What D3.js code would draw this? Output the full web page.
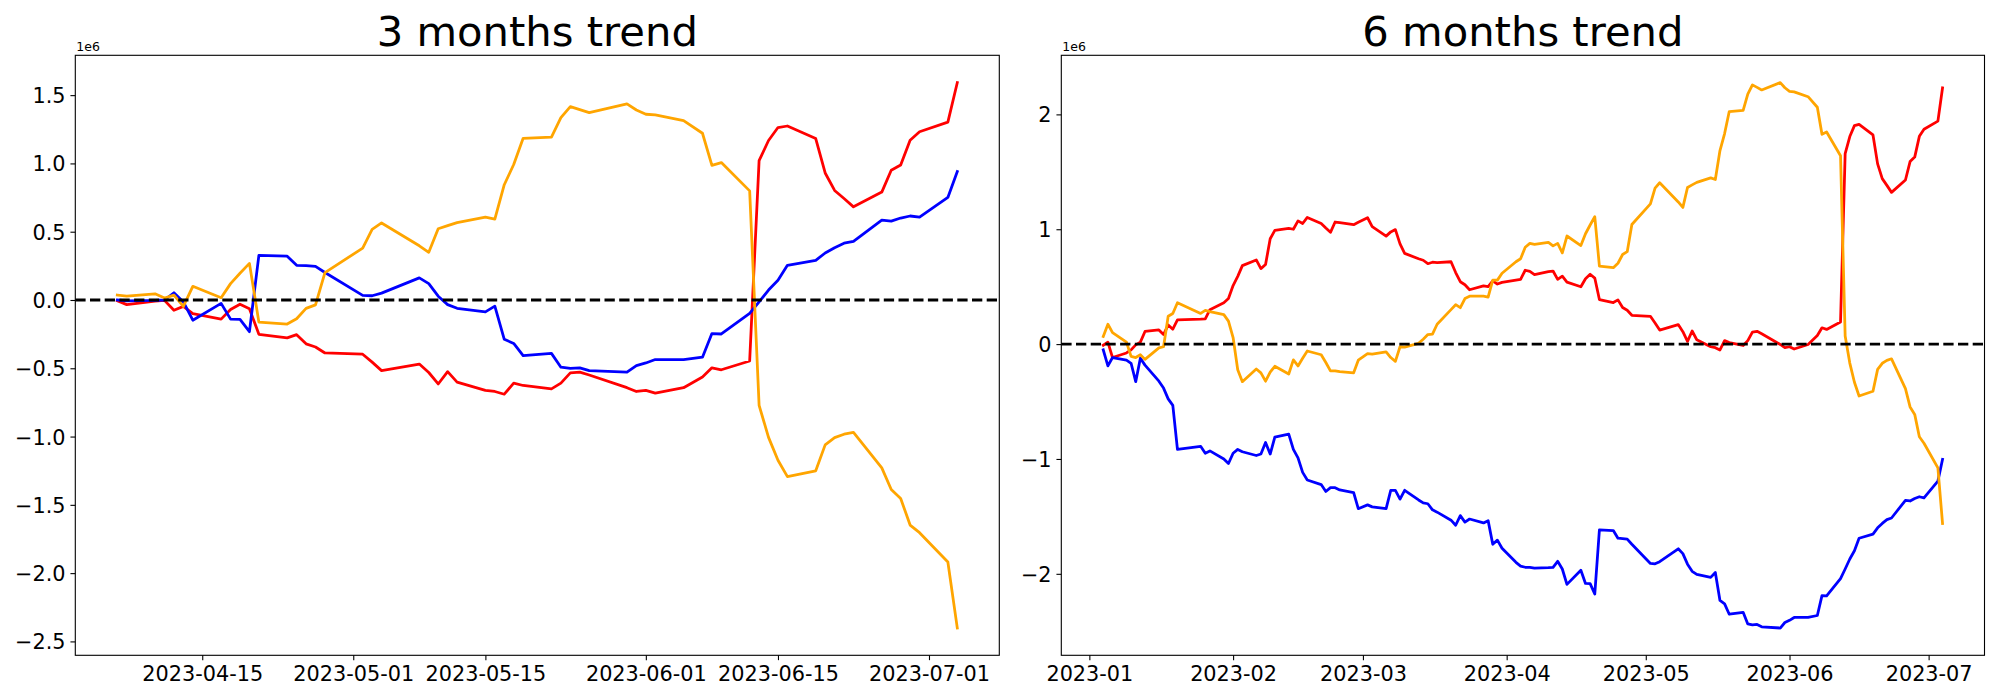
<!DOCTYPE html>
<html>
<head>
<meta charset="utf-8">
<title>3 / 6 months trend</title>
<script src="https://d3js.org/d3.v7.min.js"></script>
<style>
  body { margin: 0; background: #fff; }
  svg { display: block; font-family: "DejaVu Sans", sans-serif; }
</style>
</head>
<body>
<svg id="chart" width="2000" height="700"></svg>

<script>
    // Trading days 2023 (MM-DD), last 3 months
    const days3 = [
        "04-06","04-07","04-10","04-11","04-12","04-13","04-14","04-17","04-18","04-19","04-20","04-21","04-24","04-25","04-26","04-27","04-28",
        "05-02","05-03","05-04","05-08","05-09","05-10","05-11","05-12","05-15","05-16","05-17","05-18","05-19","05-22","05-23","05-24","05-25","05-26","05-30","05-31",
        "06-01","06-02","06-05","06-07","06-08","06-09","06-12","06-13","06-14","06-15","06-16","06-19","06-20","06-21","06-22","06-23","06-26","06-27","06-28","06-29","06-30",
        "07-03","07-04"
    ];

    // Trading days 2023 (MM-DD), last 6 months
    const days6 = [
        "01-04","01-05","01-06","01-09","01-10","01-11","01-12","01-13","01-16","01-17","01-18","01-19","01-20","01-25","01-26","01-27","01-30","01-31",
        "02-01","02-02","02-03","02-06","02-07","02-08","02-09","02-10","02-13","02-14","02-15","02-16","02-17","02-20","02-21","02-22","02-23","02-24","02-27","02-28",
        "03-02","03-03","03-06","03-07","03-08","03-09","03-10","03-13","03-14","03-15","03-16","03-17","03-20","03-21","03-22","03-23","03-24","03-27","03-28","03-29","03-30","03-31",
        "04-03","04-04","04-05",
        ...days3
    ];

    // 3 months series (1e6)
    const red3 = [
        -0.006, -0.034, -0.008, -0.003, -0.075, -0.047, -0.100, -0.140, -0.070, -0.031, -0.064, -0.251, -0.277, -0.254, -0.321, -0.344, -0.388,
        -0.397, -0.455, -0.517, -0.469, -0.531, -0.615, -0.525, -0.601, -0.662, -0.670, -0.690, -0.609, -0.626, -0.651, -0.609, -0.534, -0.528, -0.549, -0.642, -0.670,
        -0.662, -0.682, -0.642, -0.564, -0.497, -0.511, -0.447, 1.020, 1.168, 1.263, 1.274, 1.182, 0.930, 0.802, 0.743, 0.682, 0.790, 0.950, 0.989, 1.170, 1.232,
        1.302, 1.592
    ];
    const blue3 = [
        0.000, -0.006, -0.003, 0.000, 0.053, -0.014, -0.148, -0.025, -0.140, -0.142, -0.232, 0.327, 0.321, 0.254, 0.251, 0.246, 0.201,
        0.034, 0.031, 0.050, 0.162, 0.120, 0.028, -0.034, -0.061, -0.087, -0.045, -0.288, -0.318, -0.408, -0.391, -0.492, -0.500, -0.497, -0.517, -0.528, -0.480,
        -0.461, -0.436, -0.436, -0.419, -0.246, -0.249, -0.098, -0.014, 0.073, 0.145, 0.254, 0.290, 0.344, 0.383, 0.416, 0.430, 0.584, 0.578, 0.600, 0.615, 0.606,
        0.751, 0.941
    ];
    const orange3 = [
        0.036, 0.028, 0.045, 0.014, 0.036, -0.047, 0.100, 0.017, 0.120, 0.196, 0.268, -0.162, -0.176, -0.137, -0.061, -0.036, 0.200,
        0.380, 0.517, 0.564, 0.397, 0.349, 0.522, 0.545, 0.567, 0.606, 0.592, 0.844, 0.992, 1.184, 1.193, 1.335, 1.416, 1.394, 1.372, 1.436, 1.391,
        1.360, 1.355, 1.313, 1.221, 0.986, 1.006, 0.799, -0.771, -1.006, -1.173, -1.293, -1.251, -1.061, -1.008, -0.983, -0.969, -1.229, -1.388, -1.453, -1.648, -1.704,
        -1.919, -2.402
    ];

    // 6 months series (1e6)
    const red6 = [
        -0.010, 0.017, -0.117, -0.077, -0.050, -0.007, 0.017, 0.110, 0.123, 0.083, 0.167, 0.130, 0.210, 0.217, 0.220, 0.300, 0.360, 0.397,
        0.510, 0.590, 0.683, 0.733, 0.657, 0.693, 0.917, 0.990, 1.007, 1.000, 1.073, 1.050, 1.103, 1.050, 1.010, 0.973, 1.063, 1.057, 1.040, 1.060,
        1.100, 1.023, 0.940, 0.977, 0.997, 0.873, 0.790, 0.743, 0.730, 0.700, 0.713, 0.710, 0.717, 0.623, 0.543, 0.517, 0.473, 0.507, 0.500, 0.550, 0.523, 0.537,
        0.557, 0.563, 0.643,
        0.633, 0.605, 0.631, 0.636, 0.564, 0.592, 0.539, 0.499, 0.569, 0.608, 0.575, 0.388, 0.362, 0.385, 0.318, 0.295, 0.251,
        0.242, 0.184, 0.122, 0.170, 0.108, 0.024, 0.114, 0.038, -0.023, -0.031, -0.051, 0.030, 0.013, -0.012, 0.030, 0.105, 0.111, 0.090, -0.003, -0.031,
        -0.023, -0.043, -0.003, 0.075, 0.142, 0.128, 0.192, 1.659, 1.807, 1.902, 1.913, 1.821, 1.569, 1.441, 1.382, 1.321, 1.429, 1.589, 1.628, 1.809, 1.871,
        1.941, 2.231
    ];
    const blue6 = [
        -0.050, -0.190, -0.117, -0.140, -0.167, -0.327, -0.123, -0.183, -0.323, -0.383, -0.477, -0.533, -0.917, -0.890, -0.950, -0.930, -1.000, -1.040,
        -0.950, -0.917, -0.937, -0.970, -0.957, -0.857, -0.957, -0.810, -0.783, -0.917, -0.990, -1.117, -1.183, -1.223, -1.283, -1.250, -1.250, -1.270, -1.293, -1.433,
        -1.400, -1.417, -1.433, -1.273, -1.273, -1.350, -1.273, -1.357, -1.383, -1.390, -1.443, -1.463, -1.533, -1.577, -1.493, -1.550, -1.523, -1.557, -1.537, -1.743, -1.707, -1.777,
        -1.900, -1.933, -1.943,
        -1.944, -1.950, -1.947, -1.944, -1.891, -1.958, -2.092, -1.969, -2.084, -2.086, -2.176, -1.617, -1.623, -1.690, -1.693, -1.698, -1.743,
        -1.910, -1.913, -1.894, -1.782, -1.824, -1.916, -1.978, -2.005, -2.031, -1.989, -2.232, -2.262, -2.352, -2.335, -2.436, -2.444, -2.441, -2.461, -2.472, -2.424,
        -2.405, -2.380, -2.380, -2.363, -2.190, -2.193, -2.042, -1.958, -1.871, -1.799, -1.690, -1.654, -1.600, -1.561, -1.528, -1.514, -1.360, -1.366, -1.344, -1.329, -1.338,
        -1.193, -1.003
    ];
    const orange6 = [
        0.067, 0.173, 0.100, 0.017, -0.107, -0.117, -0.093, -0.133, -0.033, -0.023, 0.243, 0.267, 0.360, 0.267, 0.293, 0.283, 0.257, 0.200,
        0.057, -0.223, -0.327, -0.217, -0.250, -0.323, -0.243, -0.193, -0.260, -0.137, -0.190, -0.123, -0.060, -0.093, -0.160, -0.233, -0.233, -0.240, -0.250, -0.140,
        -0.083, -0.087, -0.067, -0.117, -0.150, -0.023, -0.027, 0.007, 0.043, 0.083, 0.087, 0.173, 0.300, 0.343, 0.317, 0.397, 0.417, 0.417, 0.410, 0.557, 0.557, 0.617,
        0.717, 0.743, 0.843,
        0.877, 0.869, 0.886, 0.855, 0.877, 0.794, 0.941, 0.858, 0.961, 1.037, 1.109, 0.679, 0.665, 0.704, 0.780, 0.805, 1.041,
        1.221, 1.358, 1.405, 1.238, 1.190, 1.363, 1.386, 1.408, 1.447, 1.433, 1.685, 1.833, 2.025, 2.034, 2.176, 2.257, 2.235, 2.213, 2.277, 2.232,
        2.201, 2.196, 2.154, 2.062, 1.827, 1.847, 1.640, 0.070, -0.165, -0.332, -0.452, -0.410, -0.220, -0.167, -0.142, -0.128, -0.388, -0.547, -0.612, -0.807, -0.863,
        -1.078, -1.561
    ];

    // Tick values
    const yTicks3 = [-2.5, -2.0, -1.5, -1.0, -0.5, 0.0, 0.5, 1.0, 1.5];
    const yTicks6 = [-2, -1, 0, 1, 2];
    const xTicks3 = ["2023-04-15", "2023-05-01", "2023-05-15", "2023-06-01", "2023-06-15", "2023-07-01"];
    const xTicks6 = ["2023-01-01", "2023-02-01", "2023-03-01", "2023-04-01", "2023-05-01", "2023-06-01", "2023-07-01"];

    const svg = d3.select('#chart');
    const parse = d3.utcParse('%Y-%m-%d');
    const tickLen = 4.86;
    const lw = 2.78;

    function drawPanel(p) {
        const dates = p.days.map(d => parse('2023-' + d));
        const t0 = +dates[0], t1 = +dates[dates.length - 1];
        const mx = (t1 - t0) * 0.05;

        // x scale with matplotlib style 5% margins
        const x = d3.scaleUtc()
            .domain([new Date(t0 - mx), new Date(t1 + mx)])
            .range([p.left, p.right]);

        const [lo, hi] = d3.extent(p.series.flatMap(s => s.values));
        const my = (hi - lo) * 0.05;
        const y = d3.scaleLinear()
            .domain([lo - my, hi + my])
            .range([p.bottom, p.top]);

        const g = svg.append('g');

        // Series lines
        const line = d3.line()
            .x((d, i) => x(dates[i]))
            .y(d => y(d));

        p.series.forEach(s => {
            g.append('path')
                .datum(s.values)
                .attr('d', line)
                .attr('fill', 'none')
                .attr('stroke', s.color)
                .attr('stroke-width', lw)
                .attr('stroke-linejoin', 'round')
                .attr('stroke-linecap', 'square');
        });

        // Zero line
        g.append('line')
            .attr('x1', p.left)
            .attr('x2', p.right)
            .attr('y1', y(0))
            .attr('y2', y(0))
            .attr('stroke', 'black')
            .attr('stroke-width', lw)
            .attr('stroke-dasharray', '10.3 4.4');

        // Frame
        g.append('rect')
            .attr('x', p.left)
            .attr('y', p.top)
            .attr('width', p.right - p.left)
            .attr('height', p.bottom - p.top)
            .attr('fill', 'none')
            .attr('stroke', 'black')
            .attr('stroke-width', 1.1);

        // Y axis
        const ya = g.append('g')
            .attr('transform', `translate(${p.left},0)`)
            .call(d3.axisLeft(y)
                .tickValues(p.yTicks)
                .tickFormat(p.yFormat)
                .tickSize(tickLen)
                .tickPadding(tickLen));
        ya.select('.domain').remove();
        ya.selectAll('.tick line').attr('stroke-width', 1.1);
        ya.selectAll('.tick text')
            .attr('dy', '0.36em')
            .style('font-size', '20.8px')
            .style('font-family', '"DejaVu Sans", sans-serif')
            .attr('fill', 'black');

        // X axis
        const xa = g.append('g')
            .attr('transform', `translate(0,${p.bottom})`)
            .call(d3.axisBottom(x)
                .tickValues(p.xTicks.map(parse))
                .tickFormat(p.xFormat)
                .tickSize(tickLen)
                .tickPadding(tickLen));
        xa.select('.domain').remove();
        xa.selectAll('.tick line').attr('stroke-width', 1.1);
        xa.selectAll('.tick text')
            .attr('dy', '0.76em')
            .style('font-size', '20.8px')
            .style('font-family', '"DejaVu Sans", sans-serif')
            .attr('fill', 'black');

        // Offset text
        g.append('text')
            .attr('x', p.left + 1)
            .attr('y', p.top - 4.5)
            .style('font-size', '12.5px')
            .text('1e6');

        // Title
        g.append('text')
            .attr('x', (p.left + p.right) / 2)
            .attr('y', p.top - 9)
            .attr('text-anchor', 'middle')
            .style('font-size', '41.7px')
            .text(p.title);
    }

    drawPanel({
        title: '3 months trend',
        left: 75.3, right: 999.3, top: 55.3, bottom: 655.3,
        days: days3,
        series: [
            { values: red3, color: 'red' },
            { values: blue3, color: 'blue' },
            { values: orange3, color: 'orange' }
        ],
        yTicks: yTicks3,
        yFormat: d3.format('.1f'),
        xTicks: xTicks3,
        xFormat: d3.utcFormat('%Y-%m-%d')
    });

    drawPanel({
        title: '6 months trend',
        left: 1061.3, right: 1984.5, top: 55.3, bottom: 655.3,
        days: days6,
        series: [
            { values: red6, color: 'red' },
            { values: blue6, color: 'blue' },
            { values: orange6, color: 'orange' }
        ],
        yTicks: yTicks6,
        yFormat: d3.format('d'),
        xTicks: xTicks6,
        xFormat: d3.utcFormat('%Y-%m')
    });
</script>
</body>
</html>
